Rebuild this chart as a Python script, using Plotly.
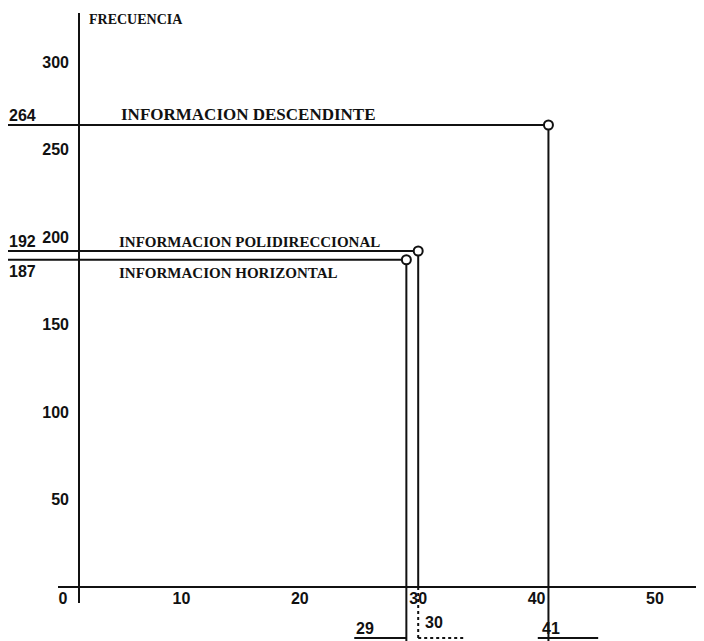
import plotly.graph_objects as go

# ---------------- data ----------------
series_names = ["INFORMACION DESCENDINTE", "INFORMACION POLIDIRECCIONAL", "INFORMACION HORIZONTAL"]
x_values = [41, 30, 29]          # horizontal axis value of each point
frecuencia = [264, 192, 187]     # FRECUENCIA
x_tick_vals = [0, 10, 20, 30, 40, 50]
y_tick_vals = [50, 100, 150, 200, 250, 300]
y_title = "FRECUENCIA"

# ---------------- layout geometry (reference-page pixels) ----------------
PAGE_W, PAGE_H = 704, 641
OFF = 8                          # default body margin of the page
W, H = PAGE_W - OFF, PAGE_H - OFF
X0_PX, XS = 63.0, 11.84          # page pixel of x=0, pixels per unit
Y0_PX, YS = 587.0, 1.75          # page pixel of y=0, pixels per unit
L_PX, R_PX, T_PX, B_PX = 8, 704, 12, 641

def xd(px):
    return (px - X0_PX) / XS

def yd(py):
    return (Y0_PX - py) / YS

x_range = [xd(L_PX), xd(R_PX)]
y_range = [yd(B_PX), yd(T_PX)]

INK = "#111111"
LW = 2
num_font = dict(family="Liberation Sans", size=16, color=INK, weight="bold")
SERIF = "Liberation Serif"

fig = go.Figure()

lead_left = xd(8)          # leader lines start left of the y axis
below_dash = ["solid", "dot", "solid"]
name_pos = [  # (x px of left edge, anchor, shift, size)
    (119, "bottom", -1, 17),
    (117, "bottom", -1, 15),
    (117, "top", -3, 15),
]
left_lbl_anchor = ["bottom", "bottom", "top"]
bottom_lbl = [  # (dx from value, y px, underline dx0, dx1, underline dash)
    (0.2, 628, -0.9, 4.2, "solid"),
    (1.3, 622, 0.0, 4.0, "dot"),
    (-3.5, 628, -4.4, 0.0, "solid"),
]

for i, (name, xv, fv) in enumerate(zip(series_names, x_values, frecuencia)):
    # horizontal leader + vertical drop to the axis
    fig.add_trace(go.Scatter(
        x=[lead_left, xv, xv], y=[fv, fv, 0], mode="lines",
        line=dict(color=INK, width=LW), hoverinfo="skip", showlegend=False))
    # continuation below the axis
    fig.add_trace(go.Scatter(
        x=[xv, xv], y=[0, y_range[0]], mode="lines",
        line=dict(color=INK, width=LW, dash=below_dash[i]),
        hoverinfo="skip", showlegend=False))
    # series label
    px_left, anch, sh, sz = name_pos[i]
    fig.add_annotation(x=xd(px_left), y=fv, xref="x", yref="y", text=name,
                       showarrow=False, xanchor="left", yanchor=anch, yshift=sh,
                       font=dict(family=SERIF, size=sz, color=INK, weight="bold"))
    # value label at the left
    fig.add_annotation(x=xd(10), y=fv, xref="x", yref="y", text=str(fv),
                       showarrow=False, xanchor="left", xshift=-3,
                       yanchor=left_lbl_anchor[i], yshift=-1,
                       font=num_font)
    # value label at the bottom with underline
    dx, ypx, u0, u1, udash = bottom_lbl[i]
    fig.add_annotation(x=xv + dx, y=yd(ypx), xref="x", yref="y", text=str(xv),
                       showarrow=False, xanchor="center", yanchor="middle",
                       font=num_font)
    fig.add_shape(type="line", xref="x", yref="y",
                  x0=xv + u0, x1=xv + u1, y0=yd(638), y1=yd(638),
                  line=dict(color=INK, width=LW, dash=udash))

# points (open circles)
fig.add_trace(go.Scatter(
    x=x_values, y=frecuencia, mode="markers",
    marker=dict(symbol="circle", size=9, color="white",
                line=dict(color=INK, width=2)),
    hovertext=series_names, showlegend=False))

# axis lines
fig.add_shape(type="line", xref="x", yref="y", x0=xd(58), x1=x_range[1], y0=0, y1=0,
              line=dict(color=INK, width=LW), layer="below")
fig.add_shape(type="line", xref="x", yref="y", x0=xd(79), x1=xd(79),
              y0=yd(603), y1=yd(13), line=dict(color=INK, width=LW), layer="below")

# y title
fig.add_annotation(x=xd(87), y=1, xref="x", yref="paper", text=y_title,
                   showarrow=False, xanchor="left", yanchor="top", yshift=2,
                   font=dict(family=SERIF, size=14, color=INK, weight="bold"))

fig.update_layout(
    width=W, height=H,
    margin=dict(l=L_PX - OFF, r=PAGE_W - R_PX, t=T_PX - OFF, b=PAGE_H - B_PX, pad=0),
    paper_bgcolor="white", plot_bgcolor="white",
    showlegend=False,
    xaxis=dict(range=x_range, tickvals=x_tick_vals, ticktext=[str(v) for v in x_tick_vals],
               showgrid=False, zeroline=False, showline=False, ticks="",
               anchor="free", position=(B_PX - Y0_PX) / (B_PX - T_PX),
               tickfont=num_font, ticklabelstandoff=0),
    yaxis=dict(range=y_range, tickvals=y_tick_vals, ticktext=[str(v) for v in y_tick_vals],
               showgrid=False, zeroline=False, showline=False, ticks="",
               anchor="free", position=(79 - L_PX) / (R_PX - L_PX),
               tickfont=num_font, ticklabelstandoff=10),
)

fig.write_html("out.html")
